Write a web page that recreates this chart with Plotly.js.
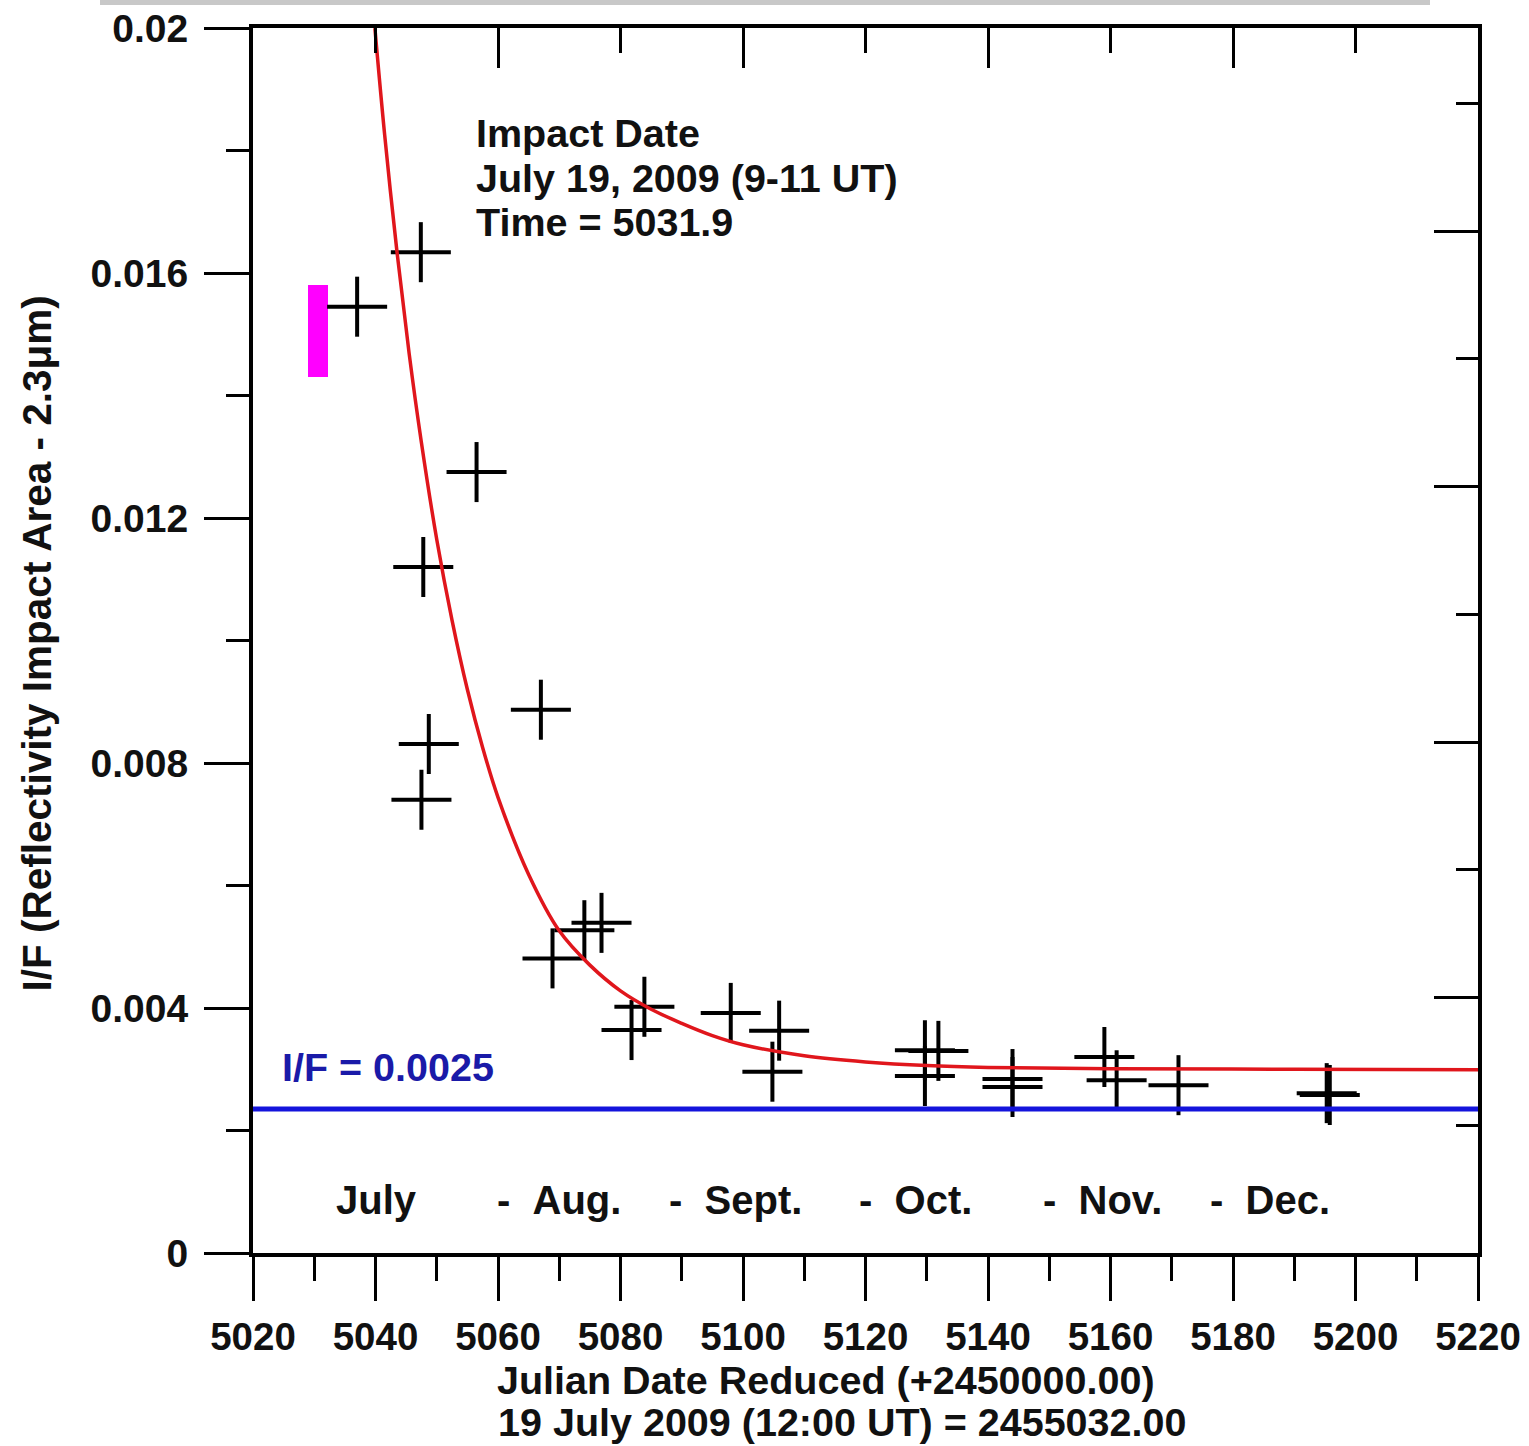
<!DOCTYPE html>
<html>
<head>
<meta charset="utf-8">
<script src="https://cdn.plot.ly/plotly-3.0.1.min.js"></script>
<style>
  html, body { margin: 0; padding: 0; background: #ffffff; }
  #chart { width: 1529px; height: 1446px; }
</style>
</head>
<body>
<div id="chart"></div>
<script>
// ---- Data ----
// Measured points (Julian Date reduced, I/F)
const obsX = [5037.0, 5047.4, 5056.5, 5047.8, 5048.7, 5047.5, 5067.0, 5068.9, 5074.1, 5076.9,
              5083.9, 5081.8, 5098.0, 5105.9, 5104.8, 5129.7, 5129.7, 5131.9, 5144.0, 5144.0,
              5159.0, 5161.0, 5171.1, 5195.3, 5195.8];
const obsY = [0.01545, 0.01634, 0.01275, 0.0112, 0.00831, 0.0074, 0.00887, 0.00481, 0.00527, 0.00539,
              0.00402, 0.00364, 0.00392, 0.00363, 0.00296, 0.00331, 0.00289, 0.0033, 0.00284, 0.00271,
              0.0032, 0.00282, 0.00274, 0.00261, 0.00258];
const errXDays = 4.9;
const errYIF = 0.00049;

// Red fitted decay curve
const fitX = [5039.9, 5041.5, 5043.5, 5045.5, 5047.5, 5050, 5052.5, 5055, 5057.5, 5060, 5065, 5070,
              5075, 5080, 5085, 5090, 5095, 5100, 5110, 5120, 5130, 5140, 5160, 5190, 5220];
const fitY = [0.0200, 0.01825, 0.01635, 0.01468, 0.01323, 0.01165, 0.01033, 0.0092, 0.00825, 0.00744, 0.00618, 0.00526,
              0.0047, 0.00428, 0.00398, 0.00375, 0.00355, 0.0034, 0.00322, 0.00312, 0.00306, 0.00303, 0.00301, 0.003, 0.00299];

// Blue reference level
const levelX = [5020, 5220];
const levelY = [0.00235, 0.00235];

// Magenta impact-time bar
const impactX = [5030.6];
const impactBase = [0.0143];
const impactHeight = [0.0015];

// Axis ticks
const yTickVals = [0, 0.004, 0.008, 0.012, 0.016, 0.02];
const yTickText = ['0', '0.004', '0.008', '0.012', '0.016', '0.02'];
const xTickVals = [5020, 5040, 5060, 5080, 5100, 5120, 5140, 5160, 5180, 5200, 5220];

// Texts
const monthLabels = ['July', '- \u00a0Aug.', '- \u00a0Sept.', '- \u00a0Oct.', '- \u00a0Nov.', '- \u00a0Dec.'];
const monthCenters = [5040.2, 5070.0, 5098.8, 5128.1, 5158.7, 5186.0];
const impactLines = ['Impact Date', 'July 19, 2009 (9-11 UT)', 'Time = 5031.9'];
const levelLabel = 'I/F = 0.0025';
const xTitleLines = ['Julian Date Reduced (+2450000.00)', '19 July 2009 (12:00 UT) = 2455032.00'];
const yTitle = 'I/F (Reflectivity Impact Area - 2.3\u03bcm)';

// ---- Chart ----
const FONT = 'Liberation Sans, Arial, sans-serif';

const traces = [
  {
    type: 'scatter', mode: 'markers', x: obsX, y: obsY,
    marker: { size: 1, color: 'rgba(0,0,0,0)' },
    error_x: { type: 'constant', value: errXDays, width: 0, thickness: 4, color: '#000' },
    error_y: { type: 'constant', value: errYIF, width: 0, thickness: 4, color: '#000' },
    hoverinfo: 'skip', showlegend: false
  },
  {
    type: 'bar', x: impactX, y: impactHeight, base: impactBase, width: 3.2,
    marker: { color: '#ff00ff', line: { width: 0 } }, showlegend: false
  },
  {
    type: 'scatter', mode: 'lines', x: fitX, y: fitY,
    line: { color: '#e0161c', width: 3.5, shape: 'spline', smoothing: 1 }, showlegend: false
  },
  {
    type: 'scatter', mode: 'lines', x: levelX, y: levelY,
    line: { color: '#1414dc', width: 5 }, showlegend: false
  },
  {
    type: 'scatter', mode: 'markers', x: [5100], y: [1], xaxis: 'x2', yaxis: 'y2',
    marker: { size: 1, color: 'rgba(0,0,0,0)' }, hoverinfo: 'skip', showlegend: false
  }
];

const txtFont = (size, color) => ({ family: FONT, size: size, color: color || '#111', weight: 'bold' });

const annotations = [];
monthLabels.forEach((t, i) => {
  annotations.push({ x: monthCenters[i], y: 0.000865, xref: 'x', yref: 'y', text: t, showarrow: false,
    xanchor: 'center', yanchor: 'middle', font: txtFont(40) });
});
const impactYs = [0.018286, 0.017551, 0.016833];
impactLines.forEach((t, i) => {
  annotations.push({ x: 5056.1, y: impactYs[i], xref: 'x', yref: 'y', text: t, showarrow: false,
    xanchor: 'left', yanchor: 'middle', font: txtFont(39.5) });
});
annotations.push({ x: 5024.4, y: 0.00304, xref: 'x', yref: 'y', text: levelLabel, showarrow: false,
  xanchor: 'left', yanchor: 'middle', font: txtFont(39.5, '#1a1aa8') });
annotations.push({ x: 0.4678, y: -0.1037, xref: 'paper', yref: 'paper', text: xTitleLines[0], showarrow: false,
  xanchor: 'center', yanchor: 'middle', font: txtFont(39.5) });
annotations.push({ x: 0.4808, y: -0.138, xref: 'paper', yref: 'paper', text: xTitleLines[1], showarrow: false,
  xanchor: 'center', yanchor: 'middle', font: txtFont(39.5) });
annotations.push({ x: -0.1763, y: 0.4976, xref: 'paper', yref: 'paper', text: yTitle, showarrow: false,
  textangle: -90, xanchor: 'center', yanchor: 'middle', font: txtFont(40.5) });

const layout = {
  width: 1529, height: 1446,
  margin: { l: 253, r: 51, t: 28, b: 193 },
  paper_bgcolor: '#ffffff', plot_bgcolor: '#ffffff',
  showlegend: false,
  bargap: 0,
  xaxis: {
    range: [5020, 5220], tickmode: 'array', tickvals: xTickVals,
    ticks: 'outside', ticklen: 44, tickwidth: 3, tickcolor: '#000',
    minor: { dtick: 10, tick0: 5020, ticks: 'outside', ticklen: 24, tickwidth: 3, tickcolor: '#000', showgrid: false },
    showline: true, linewidth: 4, linecolor: '#000', showgrid: false, zeroline: false,
    tickfont: txtFont(38.5),
    ticklabelstandoff: 3
  },
  yaxis: {
    range: [0, 0.02], tickmode: 'array', tickvals: yTickVals, ticktext: yTickText,
    ticks: 'outside', ticklen: 45, tickwidth: 3, tickcolor: '#000',
    minor: { dtick: 0.002, tick0: 0, ticks: 'outside', ticklen: 23, tickwidth: 3, tickcolor: '#000', showgrid: false },
    showline: true, linewidth: 4, linecolor: '#000', showgrid: false, zeroline: false,
    tickfont: txtFont(39),
    ticklabelstandoff: 8
  },
  xaxis2: {
    overlaying: 'x', side: 'top', range: [5020, 5220], tick0: 5020, dtick: 40,
    ticks: 'inside', ticklen: 40, tickwidth: 3, tickcolor: '#000',
    minor: { dtick: 20, tick0: 5020, ticks: 'inside', ticklen: 25, tickwidth: 3, tickcolor: '#000', showgrid: false },
    showline: true, linewidth: 4, linecolor: '#000', showgrid: false, zeroline: false, showticklabels: false
  },
  yaxis2: {
    overlaying: 'y', side: 'right', range: [0, 9.589], tick0: 0, dtick: 2,
    ticks: 'inside', ticklen: 44, tickwidth: 3, tickcolor: '#000',
    minor: { dtick: 1, tick0: 0, ticks: 'inside', ticklen: 22, tickwidth: 3, tickcolor: '#000', showgrid: false },
    showline: true, linewidth: 4, linecolor: '#000', showgrid: false, zeroline: false, showticklabels: false
  },
  shapes: [
    { type: 'rect', xref: 'paper', yref: 'paper', x0: (100 - 253) / 1225, x1: (1430 - 253) / 1225,
      y0: 1 + 23 / 1225, y1: 1 + 28 / 1225, fillcolor: '#c8c8c8', line: { width: 0 }, layer: 'above' }
  ],
  annotations: annotations
};

Plotly.newPlot('chart', traces, layout, { displayModeBar: false, staticPlot: true });
</script>
</body>
</html>
